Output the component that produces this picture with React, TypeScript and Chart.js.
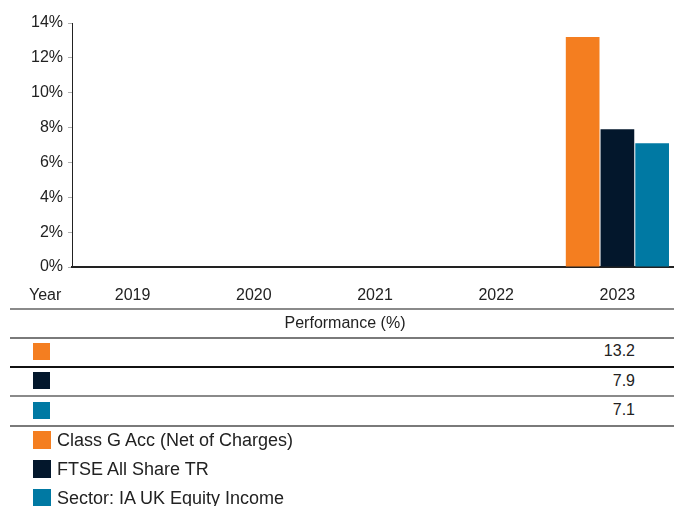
import React, { useEffect, useRef } from "react";
import { Chart, registerables } from "chart.js";

Chart.register(...registerables);

const years = ["2019", "2020", "2021", "2022", "2023"];
const seriesNames = [
  "Class G Acc (Net of Charges)",
  "FTSE All Share TR",
  "Sector: IA UK Equity Income",
];
const seriesColors = ["#F47E20", "#03172C", "#0079A3"];
const classG: (number | null)[] = [null, null, null, null, 13.2];
const ftseAllShare: (number | null)[] = [null, null, null, null, 7.9];
const sectorIA: (number | null)[] = [null, null, null, null, 7.1];
const seriesData = [classG, ftseAllShare, sectorIA];
const yTicks = [0, 2, 4, 6, 8, 10, 12, 14];

const FONT = "'Liberation Sans', Arial, Helvetica, sans-serif";
const TEXT = "#222222";

export default function App() {
  const ref = useRef<HTMLCanvasElement | null>(null);

  useEffect(() => {
    document.body.style.margin = "0";
    const canvas = ref.current;
    if (!canvas) return;
    const chart = new Chart(canvas, {
      type: "bar",
      data: {
        labels: years,
        datasets: seriesNames.map((name, i) => ({
          label: name,
          data: seriesData[i],
          backgroundColor: seriesColors[i],
          borderWidth: 0,
          categoryPercentage: 0.86,
          barPercentage: 0.97,
        })),
      },
      options: {
        responsive: false,
        animation: false,
        layout: { padding: { top: 23, right: 2, left: 0, bottom: 0 } },
        plugins: {
          legend: { display: false },
          tooltip: { enabled: false },
          title: { display: false },
        },
        scales: {
          x: {
            z: 1,
            grid: { display: false },
            border: { display: true, color: "#222222", width: 2 },
            ticks: {
              color: TEXT,
              font: { family: FONT, size: 16 },
              padding: 11,
              maxRotation: 0,
            },
            afterFit: (scale: any) => {
              scale.height = 43;
            },
          },
          y: {
            min: 0,
            max: 14,
            afterBuildTicks: (scale: any) => {
              scale.ticks = yTicks.map((v) => ({ value: v }));
            },
            grid: {
              drawOnChartArea: false,
              drawTicks: true,
              tickLength: 4,
              color: "#b0b0b0",
            },
            border: { display: true, color: "#222222", width: 1 },
            ticks: {
              color: TEXT,
              font: { family: FONT, size: 16 },
              padding: 5,
              callback: (v: any) => `${v}%`,
            },
            afterFit: (scale: any) => {
              scale.width = 72;
            },
          },
        },
      },
    });
    return () => chart.destroy();
  }, []);

  const textAt = (
    text: string,
    cy: number,
    opts: { left?: number; right?: number; center?: number; size?: number }
  ) => {
    const size = opts.size ?? 16;
    const style: React.CSSProperties = {
      position: "absolute",
      top: cy - 12,
      height: 24,
      lineHeight: "24px",
      fontSize: size,
      fontFamily: FONT,
      color: TEXT,
      whiteSpace: "nowrap",
    };
    if (opts.left !== undefined) style.left = opts.left;
    if (opts.right !== undefined) {
      style.left = opts.right - 200;
      style.width = 200;
      style.textAlign = "right";
    }
    if (opts.center !== undefined) {
      style.left = opts.center - 150;
      style.width = 300;
      style.textAlign = "center";
    }
    return <div style={style}>{text}</div>;
  };

  const hline = (y: number, color: string, w = 2) => (
    <div
      style={{
        position: "absolute",
        left: 10,
        width: 664,
        top: y - w / 2,
        height: w,
        background: color,
      }}
    />
  );

  const square = (x: number, y: number, s: number, color: string) => (
    <div
      style={{
        position: "absolute",
        left: x,
        top: y,
        width: s,
        height: s,
        background: color,
      }}
    />
  );

  const rowCenters = [351, 380.5, 410];
  const rowTops = [343, 372, 402];
  const legendTops = [431, 460, 489];
  const lastIdx = years.length - 1;

  return (
    <div
      style={{
        position: "relative",
        width: 674,
        height: 506,
        overflow: "hidden",
        background: "#ffffff",
      }}
    >
      <canvas
        ref={ref}
        width={680}
        height={310}
        style={{ position: "absolute", left: 0, top: 0, width: 680, height: 310 }}
      />
      {textAt("Year", 295, { left: 29 })}
      {hline(308.5, "#8a8a8a")}
      {textAt("Performance (%)", 323, { center: 345 })}
      {hline(337.5, "#7a7a7a")}
      {seriesNames.map((_, i) => (
        <React.Fragment key={"row" + i}>
          {square(33, rowTops[i], 17, seriesColors[i])}
          {textAt(String(seriesData[i][lastIdx]), rowCenters[i], { right: 635 })}
        </React.Fragment>
      ))}
      {hline(366.5, "#111111")}
      {hline(396, "#8a8a8a")}
      {hline(425.5, "#7a7a7a")}
      {seriesNames.map((name, i) => (
        <React.Fragment key={"leg" + i}>
          {square(33, legendTops[i], 18, seriesColors[i])}
          {textAt(name, legendTops[i] + 9, { left: 57, size: 18 })}
        </React.Fragment>
      ))}
    </div>
  );
}
